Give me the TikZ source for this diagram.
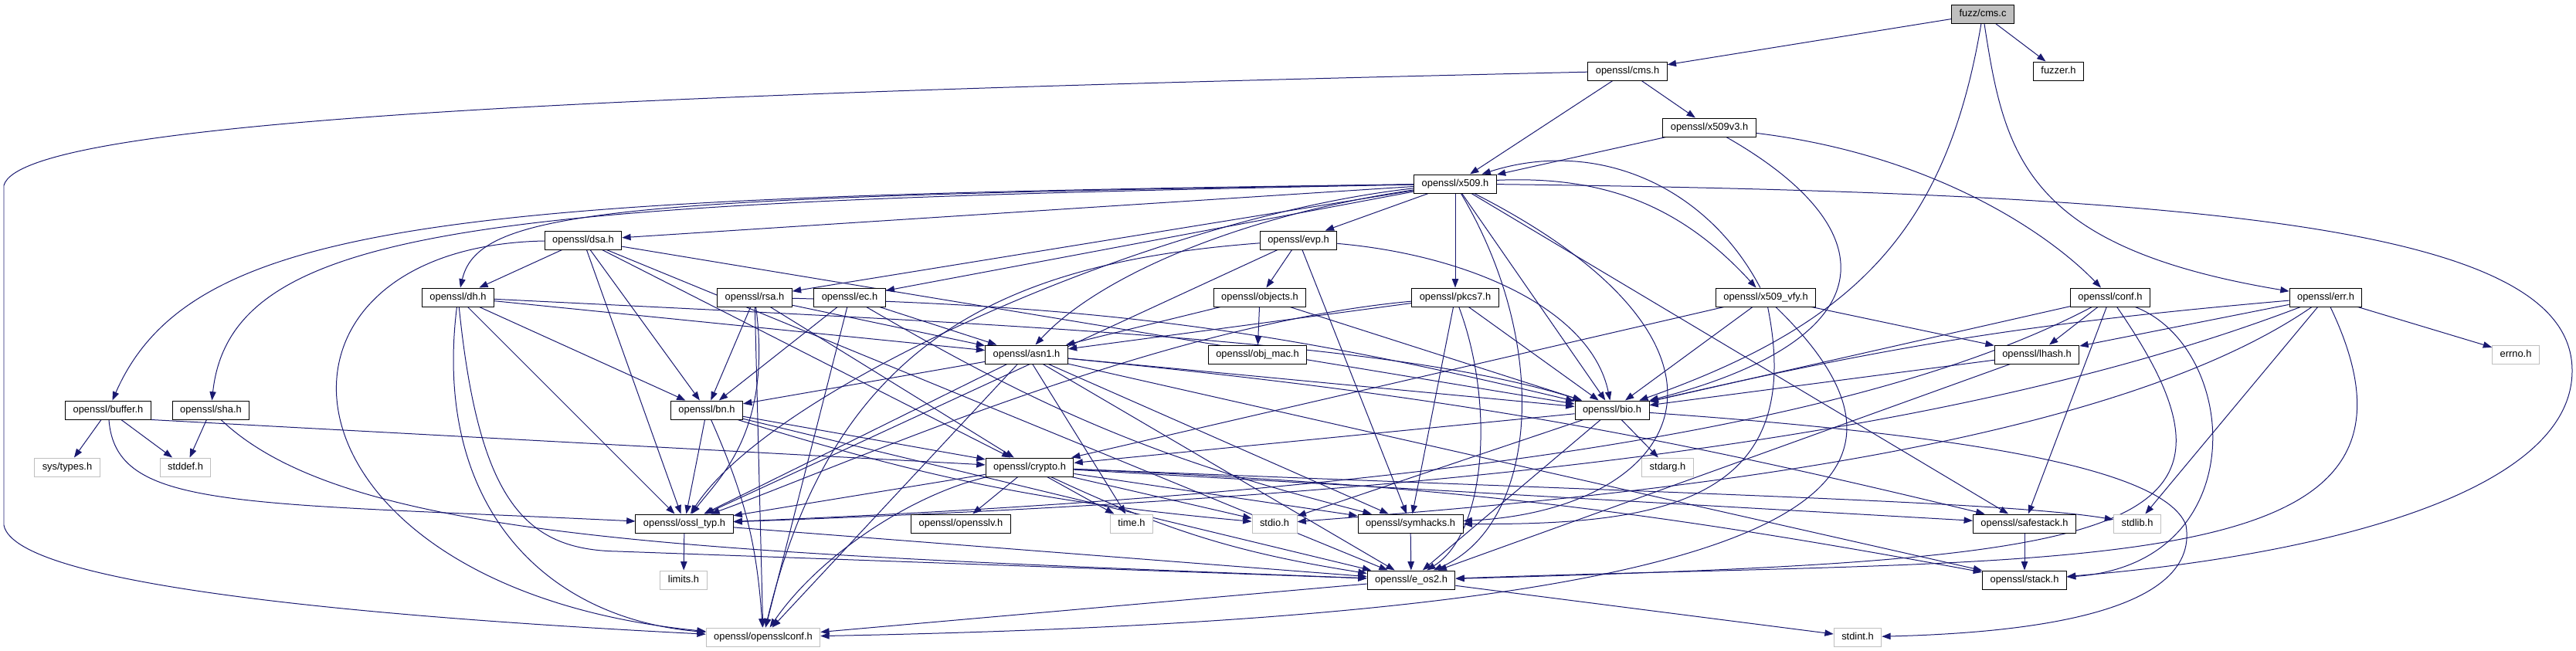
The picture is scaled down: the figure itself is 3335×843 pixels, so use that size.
\documentclass[tikz,border=0pt]{standalone}
\usepackage{fontspec}
\setmainfont{Liberation Sans}
\usetikzlibrary{arrows.meta,backgrounds}
\definecolor{incblue}{RGB}{25,25,112}
\definecolor{sysgray}{RGB}{191,191,191}
\begin{document}
\begin{tikzpicture}[x=0.03cm,y=-0.03cm,
hdr/.style={draw=black,fill=white,line width=0.85pt,minimum height=0.72cm,inner xsep=0.3cm,inner ysep=0pt,text height=8pt,text depth=2.4pt,font=\fontsize{11}{12}\selectfont},
syshdr/.style={hdr,draw=sysgray},
srcfile/.style={hdr,fill=sysgray},
inc/.style={draw=incblue,line width=0.85pt,-{Triangle[length=0.34cm,width=0.25cm]}}]
\useasboundingbox (0,0) rectangle (3335,843);
\node[srcfile] (cmsc) at (2567,18) {fuzz/cms.c};
\node[hdr] (cms) at (2107,92) {openssl/cms.h};
\node[hdr] (fuzzer) at (2665,92) {fuzzer.h};
\node[hdr] (x509v3) at (2213,165) {openssl/x509v3.h};
\node[hdr] (x509) at (1884,238) {openssl/x509.h};
\node[hdr] (dsa) at (755,311) {openssl/dsa.h};
\node[hdr] (evp) at (1681,311) {openssl/evp.h};
\node[hdr] (dh) at (593,385) {openssl/dh.h};
\node[hdr] (rsa) at (977,385) {openssl/rsa.h};
\node[hdr] (ec) at (1100,385) {openssl/ec.h};
\node[hdr] (objects) at (1631,385) {openssl/objects.h};
\node[hdr] (pkcs7) at (1884,385) {openssl/pkcs7.h};
\node[hdr] (x509vfy) at (2286,385) {openssl/x509\_vfy.h};
\node[hdr] (conf) at (2732,385) {openssl/conf.h};
\node[hdr] (err) at (3011,385) {openssl/err.h};
\node[hdr] (asn1) at (1329,459) {openssl/asn1.h};
\node[hdr] (objmac) at (1628,459) {openssl/obj\_mac.h};
\node[hdr] (lhash) at (2637,459) {openssl/lhash.h};
\node[syshdr] (errno) at (3257,459) {errno.h};
\node[hdr] (buffer) at (140,531) {openssl/buffer.h};
\node[hdr] (sha) at (273,531) {openssl/sha.h};
\node[hdr] (bn) at (915,531) {openssl/bn.h};
\node[hdr] (bio) at (2087,531) {openssl/bio.h};
\node[syshdr] (systypes) at (87,605) {sys/types.h};
\node[syshdr] (stddef) at (240,605) {stddef.h};
\node[hdr] (crypto) at (1333,605) {openssl/crypto.h};
\node[syshdr] (stdarg) at (2159,605) {stdarg.h};
\node[hdr] (ossltyp) at (886,678) {openssl/ossl\_typ.h};
\node[hdr] (opensslv) at (1244,678) {openssl/opensslv.h};
\node[syshdr] (time) at (1465,678) {time.h};
\node[syshdr] (stdio) at (1650,678) {stdio.h};
\node[hdr] (symhacks) at (1826,678) {openssl/symhacks.h};
\node[hdr] (safestack) at (2621,678) {openssl/safestack.h};
\node[syshdr] (stdlib) at (2767,678) {stdlib.h};
\node[syshdr] (limits) at (885,751) {limits.h};
\node[hdr] (eos2) at (1827,751) {openssl/e\_os2.h};
\node[hdr] (stack) at (2621,751) {openssl/stack.h};
\node[syshdr] (opensslconf) at (988,825) {openssl/opensslconf.h};
\node[syshdr] (stdint) at (2405,825) {stdint.h};
\begin{scope}[on background layer]
\draw[inc] (cmsc) -- (cms);
\draw[inc] (cmsc) -- (fuzzer);
\draw[inc] (cmsc) .. controls (2520,300) and (2400,420) .. (bio);
\draw[inc] (cmsc) .. controls (2595,200) and (2620,320) .. (err);
\draw[inc] (cms) .. controls (900,120) and (30,150) .. (5,240) -- (5,680) .. controls (20,760) and (500,800) .. (opensslconf);
\draw[inc] (cms) -- (x509);
\draw[inc] (cms) -- (x509v3);
\draw[inc] (x509v3) -- (x509);
\draw[inc] (x509v3) .. controls (2450,300) and (2440,440) .. (bio);
\draw[inc] (x509v3) .. controls (2500,200) and (2650,300) .. (conf);
\draw[inc] (x509) .. controls (600,255) and (250,280) .. (buffer);
\draw[inc] (x509) .. controls (650,262) and (300,285) .. (sha);
\draw[inc] (x509) .. controls (800,255) and (620,270) .. (dh);
\draw[inc] (x509) -- (dsa);
\draw[inc] (x509) -- (evp);
\draw[inc] (x509) -- (rsa);
\draw[inc] (x509) -- (ec);
\draw[inc] (x509) .. controls (1600,280) and (1420,360) .. (asn1);
\draw[inc] (x509) -- (pkcs7);
\draw[inc] (x509) to[bend left=25] (x509vfy);
\draw[inc] (x509) .. controls (1500,280) and (1000,500) .. (ossltyp);
\draw[inc] (x509) -- (bio);
\draw[inc] (x509) .. controls (2300,450) and (2180,660) .. (symhacks);
\draw[inc] (x509) .. controls (2010,450) and (1990,680) .. (eos2);
\draw[inc] (x509) -- (safestack);
\draw[inc] (x509) .. controls (2900,250) and (3330,300) .. (3330,480) .. controls (3330,640) and (3000,720) .. (stack);
\draw[inc] (evp) -- (objects);
\draw[inc] (evp) .. controls (1900,330) and (2060,400) .. (bio);
\draw[inc] (evp) -- (symhacks);
\draw[inc] (evp) -- (ossltyp);
\draw[inc] (evp) .. controls (1300,340) and (1080,440) .. (opensslconf);
\draw[inc] (objects) -- (objmac);
\draw[inc] (objects) -- (bio);
\draw[inc] (objects) -- (asn1);
\draw[inc] (asn1) -- (bn);
\draw[inc] (asn1) -- (bio);
\draw[inc] (asn1) -- (time);
\draw[inc] (asn1) -- (ossltyp);
\draw[inc] (asn1) -- (symhacks);
\draw[inc] (asn1) -- (eos2);
\draw[inc] (asn1) to[bend left=4] (safestack);
\draw[inc] (asn1) -- (stack);
\draw[inc] (asn1) -- (opensslconf);
\draw[inc] (bio) -- (stdarg);
\draw[inc] (bio) -- (crypto);
\draw[inc] (bio) -- (stdio);
\draw[inc] (bio) -- (eos2);
\draw[inc] (bio) .. controls (2500,560) and (2800,600) .. (2830,680) .. controls (2850,800) and (2600,820) .. (stdint);
\draw[inc] (crypto) -- (opensslv);
\draw[inc] (crypto) -- (ossltyp);
\draw[inc] (crypto) -- (time);
\draw[inc] (crypto) -- (stdio);
\draw[inc] (crypto) -- (symhacks);
\draw[inc] (crypto) to[bend right=8] (eos2);
\draw[inc] (crypto) -- (safestack);
\draw[inc] (crypto) .. controls (2200,640) and (2600,650) .. (stdlib);
\draw[inc] (crypto) to[bend left=4] (stack);
\draw[inc] (crypto) .. controls (1180,640) and (1060,720) .. (opensslconf);
\draw[inc] (bn) -- (crypto);
\draw[inc] (bn) -- (ossltyp);
\draw[inc] (bn) to[bend left=10] (opensslconf);
\draw[inc] (bn) to[bend right=6] (stdio);
\draw[inc] (bn) -- (eos2);
\draw[inc] (dsa) -- (dh);
\draw[inc] (dsa) -- (bn);
\draw[inc] (dsa) -- (ossltyp);
\draw[inc] (dsa) -- (crypto);
\draw[inc] (dsa) -- (bio);
\draw[inc] (dsa) -- (eos2);
\draw[inc] (dsa) .. controls (300,320) and (340,760) .. (opensslconf);
\draw[inc] (dh) -- (bn);
\draw[inc] (dh) -- (ossltyp);
\draw[inc] (dh) -- (asn1);
\draw[inc] (dh) .. controls (1300,420) and (1800,440) .. (bio);
\draw[inc] (dh) .. controls (620,650) and (680,712) .. (800,714) -- (eos2);
\draw[inc] (dh) .. controls (560,650) and (700,800) .. (opensslconf);
\draw[inc] (rsa) -- (bn);
\draw[inc] (rsa) .. controls (1000,560) and (930,620) .. (ossltyp);
\draw[inc] (rsa) -- (crypto);
\draw[inc] (rsa) -- (asn1);
\draw[inc] (rsa) to[bend left=6] (bio);
\draw[inc] (rsa) -- (opensslconf);
\draw[inc] (ec) -- (bn);
\draw[inc] (ec) -- (asn1);
\draw[inc] (ec) to[bend right=8] (symhacks);
\draw[inc] (ec) -- (opensslconf);
\draw[inc] (pkcs7) -- (asn1);
\draw[inc] (pkcs7) -- (bio);
\draw[inc] (pkcs7) -- (symhacks);
\draw[inc] (pkcs7) .. controls (1500,420) and (1100,600) .. (ossltyp);
\draw[inc] (pkcs7) .. controls (1935,520) and (1925,690) .. (eos2);
\draw[inc] (x509vfy) to[bend right=40] (x509);
\draw[inc] (x509vfy) -- (lhash);
\draw[inc] (x509vfy) -- (bio);
\draw[inc] (x509vfy) -- (crypto);
\draw[inc] (x509vfy) .. controls (2340,650) and (2150,680) .. (symhacks);
\draw[inc] (x509vfy) .. controls (2560,650) and (2300,800) .. (opensslconf);
\draw[inc] (conf) -- (bio);
\draw[inc] (conf) -- (lhash);
\draw[inc] (conf) -- (safestack);
\draw[inc] (conf) .. controls (2900,450) and (2920,730) .. (stack);
\draw[inc] (conf) .. controls (2950,700) and (2750,725) .. (eos2);
\draw[inc] (conf) .. controls (2400,560) and (1800,640) .. (ossltyp);
\draw[inc] (err) -- (errno);
\draw[inc] (err) -- (lhash);
\draw[inc] (err) to[bend right=4] (bio);
\draw[inc] (err) -- (stdlib);
\draw[inc] (err) .. controls (2700,600) and (2000,650) .. (stdio);
\draw[inc] (err) .. controls (2500,580) and (1800,645) .. (ossltyp);
\draw[inc] (err) .. controls (3190,760) and (2700,720) .. (eos2);
\draw[inc] (lhash) -- (bio);
\draw[inc] (lhash) -- (eos2);
\draw[inc] (buffer) -- (systypes);
\draw[inc] (buffer) -- (stddef);
\draw[inc] (buffer) .. controls (150,660) and (300,650) .. (ossltyp);
\draw[inc] (buffer.south east) -- (crypto);
\draw[inc] (sha) -- (stddef);
\draw[inc] (sha) .. controls (450,700) and (900,715) .. (eos2);
\draw[inc] (safestack) -- (stack);
\draw[inc] (symhacks) -- (eos2);
\draw[inc] (ossltyp) -- (limits);
\draw[inc] (ossltyp) -- (eos2);
\draw[inc] (eos2) -- (opensslconf);
\draw[inc] (eos2) -- (stdint);
\end{scope}
\end{tikzpicture}
\end{document}
